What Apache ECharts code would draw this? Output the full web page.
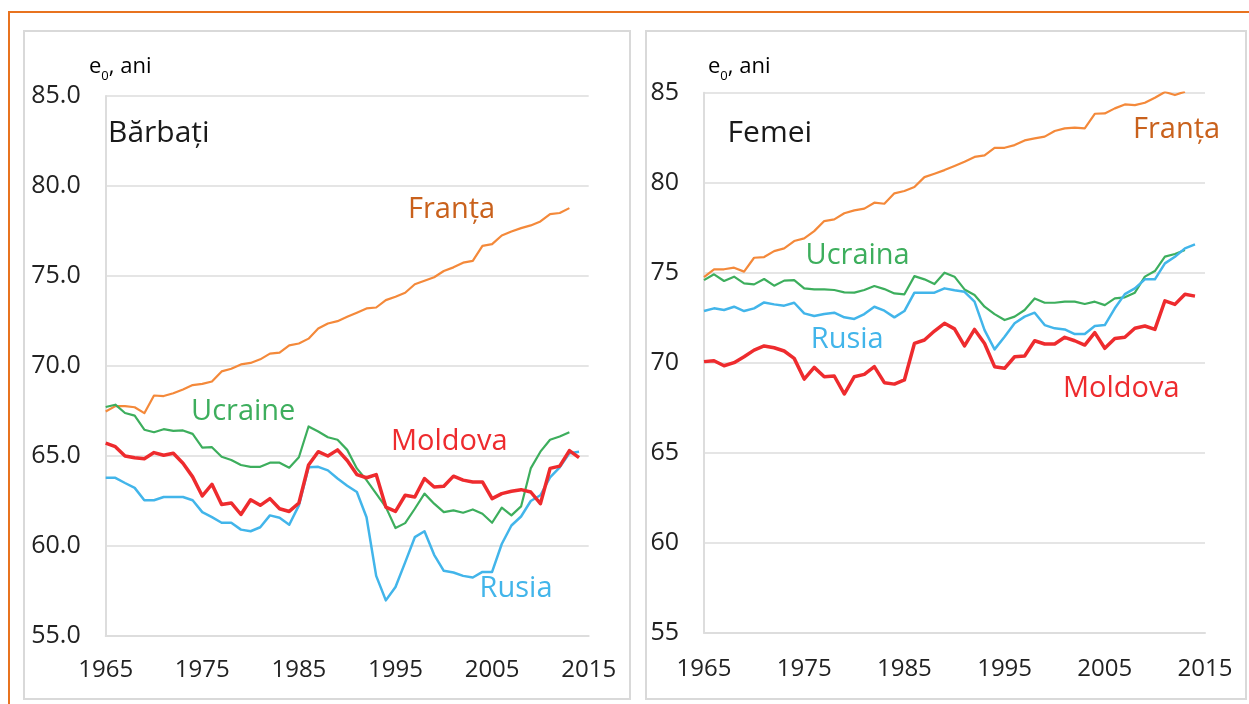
<!DOCTYPE html>
<html>
<head>
<meta charset="utf-8">
<script src="https://cdn.jsdelivr.net/npm/echarts@6/dist/echarts.min.js"></script>
<style>
html,body{margin:0;padding:0;background:#fff;}
#chart{width:1249px;height:704px;}
</style>
</head>
<body>
<div id="chart"></div>
<script>
// ---- Categories (years) ----
var years = ['1965','1966','1967','1968','1969','1970','1971','1972','1973','1974',
             '1975','1976','1977','1978','1979','1980','1981','1982','1983','1984',
             '1985','1986','1987','1988','1989','1990','1991','1992','1993','1994',
             '1995','1996','1997','1998','1999','2000','2001','2002','2003','2004',
             '2005','2006','2007','2008','2009','2010','2011','2012','2013','2014','2015'];

// ---- Men (Bărbați) life expectancy at birth ----
var franceM = [67.47,67.77,67.77,67.71,67.38,68.36,68.33,68.49,68.70,68.94,
               69.01,69.14,69.70,69.85,70.09,70.17,70.37,70.69,70.74,71.15,
               71.25,71.52,72.08,72.36,72.49,72.73,72.96,73.20,73.25,73.66,
               73.85,74.07,74.54,74.74,74.93,75.28,75.48,75.74,75.84,76.67,
               76.77,77.25,77.47,77.66,77.81,78.03,78.44,78.50,78.77];
var ukraineM = [67.72,67.85,67.39,67.24,66.46,66.32,66.49,66.40,66.42,66.23,
                65.47,65.49,64.96,64.78,64.50,64.40,64.40,64.63,64.63,64.35,
                64.93,66.64,66.36,66.04,65.90,65.34,64.31,63.66,62.91,62.16,
                61.00,61.27,62.07,62.91,62.35,61.88,61.98,61.85,62.03,61.79,
                61.29,62.13,61.70,62.20,64.31,65.24,65.90,66.08,66.32];
var moldovaM = [65.71,65.52,65.00,64.90,64.85,65.19,65.04,65.15,64.60,63.84,
                62.78,63.43,62.30,62.39,61.75,62.57,62.26,62.63,62.07,61.92,
                62.39,64.50,65.24,65.00,65.34,64.75,63.97,63.79,63.97,62.16,
                61.92,62.82,62.72,63.75,63.28,63.32,63.88,63.66,63.56,63.56,
                62.63,62.91,63.04,63.13,63.00,62.35,64.31,64.44,65.30,64.91];
var russiaM = [63.79,63.79,63.50,63.23,62.54,62.54,62.72,62.72,62.72,62.54,
               61.88,61.60,61.29,61.29,60.91,60.82,61.04,61.70,61.57,61.18,
               62.26,64.37,64.40,64.20,63.75,63.35,63.00,61.60,58.34,56.98,
               57.72,59.09,60.49,60.82,59.51,58.62,58.53,58.34,58.25,58.56,
               58.56,60.11,61.14,61.64,62.50,62.82,63.81,64.37,65.15,65.24];

// ---- Women (Femei) life expectancy at birth ----
var franceF = [74.76,75.19,75.19,75.28,75.06,75.83,75.87,76.20,76.35,76.76,
               76.91,77.31,77.87,77.96,78.30,78.46,78.56,78.89,78.83,79.41,
               79.54,79.76,80.31,80.50,80.70,80.93,81.17,81.43,81.52,81.94,
               81.94,82.09,82.35,82.46,82.56,82.87,83.02,83.06,83.02,83.83,
               83.85,84.13,84.35,84.31,84.44,84.72,85.04,84.87,85.06];
var ukraineF = [74.59,74.91,74.54,74.78,74.41,74.35,74.65,74.28,74.56,74.59,
                74.13,74.07,74.07,74.04,73.91,73.89,74.04,74.26,74.09,73.85,
                73.80,74.81,74.63,74.37,75.00,74.78,74.07,73.76,73.11,72.70,
                72.37,72.56,72.93,73.57,73.33,73.33,73.39,73.39,73.26,73.39,
                73.20,73.57,73.63,73.89,74.78,75.09,75.89,76.04,76.26];
var russiaF = [72.87,73.02,72.93,73.11,72.87,73.02,73.35,73.24,73.17,73.33,
               72.74,72.59,72.70,72.78,72.52,72.43,72.70,73.11,72.89,72.52,
               72.87,73.89,73.89,73.89,74.13,74.02,73.94,73.39,71.81,70.74,
               71.44,72.19,72.56,72.78,72.09,71.91,71.85,71.59,71.59,72.04,
               72.09,73.02,73.81,74.13,74.63,74.63,75.52,75.89,76.35,76.57];
var moldovaF = [70.06,70.11,69.83,70.00,70.33,70.70,70.93,70.83,70.65,70.24,
                69.09,69.74,69.22,69.26,68.26,69.22,69.35,69.78,68.89,68.81,
                69.04,71.07,71.26,71.76,72.19,71.88,70.93,71.85,71.07,69.78,
                69.69,70.33,70.37,71.22,71.04,71.04,71.41,71.22,70.98,71.67,
                70.80,71.35,71.41,71.91,72.04,71.85,73.44,73.24,73.80,73.70];

// ---- Axis settings ----
var yTicksMin = 55, yTicksMax = 85, yTickStep = 5;
var xLabelStep = 10;

var FONT = '"Open Sans", Lato, sans-serif';
var C_FR = '#F4893A', C_FR_TXT = '#C9611C';
var C_UA = '#3DAE5D', C_RU = '#42B5EA', C_MD = '#EE2B2E';
var GRID_C = '#DDDDDD';

var chart = echarts.init(document.getElementById('chart'), null, {renderer: 'canvas'});

function xAxisCfg(gridIndex, margin) {
  return {
    type: 'category', gridIndex: gridIndex, data: years, boundaryGap: false,
    axisLine: {show: true, lineStyle: {color: GRID_C, width: 2}},
    axisTick: {show: false},
    splitLine: {show: false},
    axisLabel: {
      interval: function (idx) { return idx % xLabelStep === 0; },
      margin: margin, color: '#222', fontFamily: FONT, fontSize: 24
    }
  };
}
function yAxisCfg(gridIndex, decimals) {
  return {
    type: 'value', gridIndex: gridIndex, min: yTicksMin, max: yTicksMax, interval: yTickStep,
    axisLine: {show: true, lineStyle: {color: GRID_C, width: 2}},
    axisTick: {show: false},
    splitLine: {show: true, lineStyle: {color: GRID_C, width: 1.5}},
    axisLabel: {
      margin: 25, color: '#222', fontFamily: FONT, fontSize: 25,
      formatter: function (v) { return v.toFixed(decimals); }
    }
  };
}
function line(name, data, color, width, xi) {
  return {
    name: name, type: 'line', xAxisIndex: xi, yAxisIndex: xi, data: data,
    showSymbol: false, symbol: 'none', smooth: false, silent: true,
    lineStyle: {color: color, width: width, join: 'round'}, z: 3
  };
}
function label(text, x, y, color, size) {
  return {
    type: 'text', x: x, y: y, z: 10, silent: true,
    style: {text: text, fill: color, font: (size || 29) + 'px ' + FONT,
            textAlign: 'left', textVerticalAlign: 'middle'}
  };
}
function yName(x) {
  return {
    type: 'text', x: x, y: 66, z: 10, silent: true,
    style: {
      text: '{a|e}{s|0}{a|, ani}',
      textAlign: 'left', textVerticalAlign: 'middle',
      rich: {
        a: {fontFamily: FONT, fontSize: 22, color: '#222', lineHeight: 24, verticalAlign: 'bottom'},
        s: {fontFamily: FONT, fontSize: 13, color: '#222', lineHeight: 14, verticalAlign: 'bottom', padding: [0, 0, -5, 0]}
      }
    }
  };
}

var option = {
  backgroundColor: '#ffffff',
  animation: false,
  grid: [
    {left: 105.7, right: 1249 - 588.7, top: 96, bottom: 704 - 636},
    {left: 704, right: 1249 - 1205, top: 92.7, bottom: 704 - 632.7}
  ],
  xAxis: [xAxisCfg(0, 22), xAxisCfg(1, 24)],
  yAxis: [yAxisCfg(0, 1), yAxisCfg(1, 0)],
  series: [
    line('Franța', franceM, C_FR, 2.2, 0),
    line('Ucraine', ukraineM, C_UA, 2.2, 0),
    line('Rusia', russiaM, C_RU, 2.5, 0),
    line('Moldova', moldovaM, C_MD, 3.5, 0),
    line('Franța', franceF, C_FR, 2.2, 1),
    line('Ucraina', ukraineF, C_UA, 2.2, 1),
    line('Rusia', russiaF, C_RU, 2.5, 1),
    line('Moldova', moldovaF, C_MD, 3.5, 1)
  ],
  graphic: [
    // page frame (orange)
    {type: 'line', silent: true, z: 1, shape: {x1: 8, y1: 12, x2: 1249, y2: 12}, style: {stroke: '#E8731F', lineWidth: 2}},
    {type: 'line', silent: true, z: 1, shape: {x1: 9, y1: 11, x2: 9, y2: 704}, style: {stroke: '#E8731F', lineWidth: 2}},
    // panel boxes
    {type: 'rect', silent: true, z: 1, shape: {x: 24, y: 31, width: 606, height: 668}, style: {fill: 'none', stroke: '#D9D9D9', lineWidth: 2}},
    {type: 'rect', silent: true, z: 1, shape: {x: 646, y: 31, width: 600, height: 668}, style: {fill: 'none', stroke: '#D9D9D9', lineWidth: 2}},
    // axis names
    yName(89), yName(708),
    // panel titles
    label('Bărbați', 108, 133.7, '#1a1a1a', 30),
    label('Femei', 727.6, 133.7, '#1a1a1a', 30),
    // series labels left
    label('Franța', 408, 210, C_FR_TXT),
    label('Ucraine', 191, 412, C_UA),
    label('Moldova', 391, 441.7, C_MD),
    label('Rusia', 479.6, 588.5, C_RU),
    // series labels right
    label('Franța', 1133, 129.5, C_FR_TXT),
    label('Ucraina', 805.5, 255.5, C_UA),
    label('Rusia', 810.8, 340, C_RU),
    label('Moldova', 1063, 389, C_MD)
  ]
};
chart.setOption(option);
</script>
</body>
</html>
